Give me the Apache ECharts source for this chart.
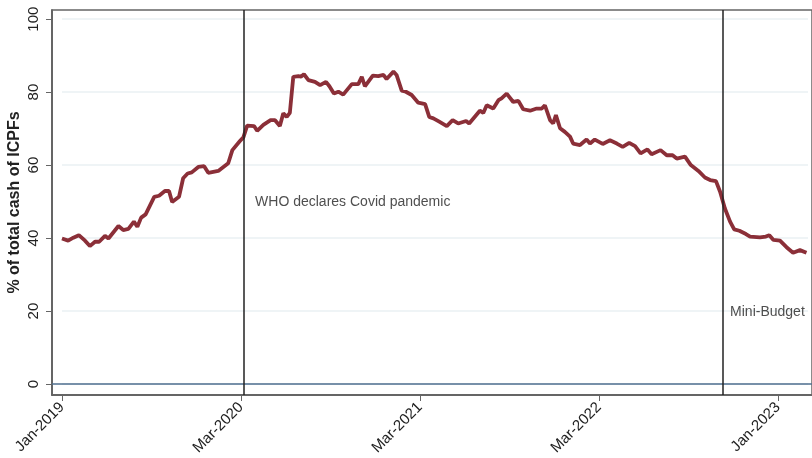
<!DOCTYPE html>
<html>
<head>
<meta charset="utf-8">
<title>ICPF cash share</title>
<script src="https://cdn.jsdelivr.net/npm/echarts@6/dist/echarts.min.js"></script>
</head>
<body style="margin:0;background:#fff">
<div id="box" style="width:812px;height:458px;"></div>
<script>
// x is a week index (0 = Jan-2019)
var weeks = [0, 1.8, 3.3, 4.9, 6.7, 8.1, 9.6, 10.8, 12.5, 13.5, 16.4, 17.8, 19.3, 20.9, 21.9, 23, 24.3,
  26.8, 28.2, 29.9, 31.1, 32, 34, 35.2, 36.5, 37.7, 39.6, 41.3, 42.5, 45.4, 48.3, 49.5, 51.7, 52.7,
  53.8, 55.8, 56.7, 58.5, 60.6, 61.9, 63.3, 64.3, 65.3, 66.2, 67.2, 68.7, 69.4, 70.3, 71.6, 73.5,
  75, 76.7, 77.7, 79, 80.3, 81.7, 84.2, 86.1, 87.1, 88, 90.3, 91.9, 93.4, 94.3, 96.3, 97.2, 98.7,
  99.9, 101.6, 103.5, 105.5, 106.7, 107.9, 109.6, 111.8, 113.5, 115.1, 117.4, 118.3, 121.4, 122.4,
  123.4, 125.3, 126.8, 127.7, 129.2, 131.1, 132.6, 134, 136, 137.9, 139.4, 140.3, 141.8, 142.7,
  143.5, 144.7, 146.1, 147.6, 148.5, 150.5, 152.4, 153.4, 154.8, 157.1, 159.2, 161.2, 162.9, 164.8,
  166.5, 168.1, 170.1, 171.3, 173.9, 175.7, 177.4, 178.6, 181, 182.7, 184.9, 186.8, 188.3, 190,
  191.2, 192.6, 194.1, 195.3, 196.8, 198.7, 199.9, 202.8, 204.5, 205.5, 206.7, 208.6, 210.5, 212.4,
  214.4, 216.3]
var share = [39.9, 39.3, 40.1, 40.8, 39.3, 37.8, 39.0, 39.0, 40.6, 39.9, 43.3, 42.2, 42.5, 44.5, 43.1, 45.6, 46.5,
  51.3, 51.6, 52.9, 52.9, 49.9, 51.3, 56.4, 57.7, 58.0, 59.5, 59.7, 57.9, 58.4, 60.5, 64.1, 66.6, 67.6,
  70.8, 70.7, 69.4, 71.0, 72.3, 72.3, 70.7, 74.2, 73.2, 74.3, 84.2, 84.4, 84.2, 84.9, 83.3, 82.8,
  81.9, 82.8, 81.6, 79.6, 80.1, 79.3, 82.2, 82.2, 84.2, 81.6, 84.5, 84.4, 84.7, 83.6, 85.6, 84.7, 80.4,
  80.1, 79.2, 77.1, 76.7, 73.2, 72.8, 71.9, 70.7, 72.3, 71.4, 72.1, 71.4, 74.9, 74.3,
  76.4, 75.5, 77.8, 78.3, 79.6, 77.3, 77.6, 75.3, 74.9, 75.5, 75.5, 76.4, 72.3, 71.4,
  73.7, 70.1, 69.1, 67.8, 65.9, 65.5, 67.0, 65.9, 67.0, 65.8, 66.8, 65.9, 65.0, 66.1,
  65.2, 63.2, 64.3, 63.0, 64.1, 62.7, 62.7, 61.8, 62.3, 60.0, 58.4, 56.6, 55.9, 55.6,
  52.7, 48.1, 44.5, 42.4, 42.0, 41.1, 40.4, 40.2, 40.4, 40.8, 39.5, 39.3, 37.5, 36.0,
  36.7, 36.0]
var tickWeeks = [0, 52, 104, 156, 208]
var tickLabels = ['Jan-2019', 'Mar-2020', 'Mar-2021', 'Mar-2022', 'Jan-2023']
var yTicks = [0, 20, 40, 60, 80, 100]
var eventWeeks = [52.9, 192]
var noteWeeks = [56.1, 194.1]
var noteValues = [49.9, 19.7]
var noteTexts = ['WHO declares Covid pandemic', 'Mini-Budget']

var font = '"Liberation Sans", Arial, sans-serif'
var mCharts = echarts.init(document.querySelector('#box'))

var lineData = weeks.map(function (w, i) { return [w, share[i]] })
var noteData = noteWeeks.map(function (w, i) { return { value: [w, noteValues[i]], name: noteTexts[i] } })

var option = {
  animation: false,
  backgroundColor: '#fff',
  grid: [
    { left: 52, right: 0, top: 10, bottom: 63, outerBoundsMode: 'none', containLabel: false,
      show: true, borderColor: '#666', borderWidth: 1.5, z: 2 },
    // second grid only for the light gridlines, its 0..100 matches the main axis
    { left: 62, right: 4, top: 19, bottom: 74, outerBoundsMode: 'none', containLabel: false, z: 0 }
  ],
  xAxis: [{
    type: 'value', min: -2.9, max: 217.9,
    splitLine: { show: false },
    axisLine: { show: true, onZero: false, lineStyle: { color: '#333', width: 1.5 } },
    axisTick: { show: true, customValues: tickWeeks, length: 6, lineStyle: { color: '#666' } },
    axisLabel: {
      customValues: tickWeeks, rotate: 45, margin: 10, fontSize: 15, color: '#222', fontFamily: font,
      formatter: function (v) { return tickLabels[tickWeeks.indexOf(v)] }
    }
  }, {
    gridIndex: 1, type: 'value', show: false
  }],
  yAxis: [{
    type: 'value', min: -3, max: 102.5,
    name: '% of total cash of ICPFs', nameLocation: 'middle', nameRotate: 90, nameGap: 29,
    nameMoveOverlap: false,
    nameTextStyle: { fontSize: 16, fontWeight: 'bold', color: '#222', fontFamily: font },
    splitLine: { show: false },
    axisLine: { show: true, onZero: false, lineStyle: { color: '#333', width: 1.5 } },
    axisTick: { show: true, customValues: yTicks, length: 6, lineStyle: { color: '#666' } },
    axisLabel: { customValues: yTicks, rotate: 90, margin: 11, fontSize: 15, color: '#222', fontFamily: font }
  }, {
    gridIndex: 1, type: 'value', min: 0, max: 100, interval: 20,
    axisLine: { show: false }, axisTick: { show: false }, axisLabel: { show: false },
    splitLine: { show: true, lineStyle: { color: '#eaf1f3', width: 1.5 } }
  }],
  series: [
    {
      type: 'line', data: lineData, z: 3,
      showSymbol: false, symbol: 'none',
      lineStyle: { color: '#8b2f38', width: 3.8 },
      markLine: {
        silent: true, symbol: 'none', label: { show: false },
        data: [{ yAxis: 0, lineStyle: { color: '#4f6f8f', type: 'solid', width: 1.5 } }]
          .concat(eventWeeks.map(function (w) {
            return { xAxis: w, lineStyle: { color: '#222', type: 'solid', width: 1.5 } }
          }))
      }
    },
    {
      type: 'scatter', data: noteData, symbolSize: 0, z: 4,
      label: {
        show: true, position: 'right', distance: 0, fontSize: 14, color: '#222', fontFamily: font,
        formatter: function (p) { return p.name }
      }
    }
  ]
}
mCharts.setOption(option)
</script>
</body>
</html>
